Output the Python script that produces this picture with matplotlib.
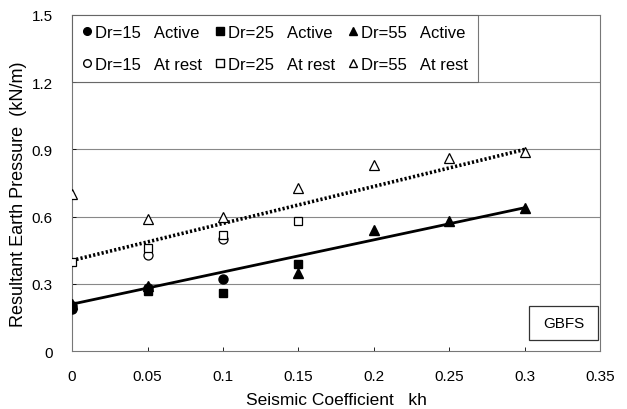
import matplotlib
matplotlib.use("Agg")
import matplotlib.pyplot as plt
from matplotlib.lines import Line2D
from matplotlib.patches import Rectangle

plt.rcParams['font.family'] = ['Liberation Sans', 'DejaVu Sans']

# Data
kh_15 = [0, 0, 0.05, 0.1]
dr15_active = [0.19, 0.20, 0.28, 0.32]
kh_25 = [0, 0.05, 0.1, 0.15]
dr25_active = [0.20, 0.27, 0.26, 0.39]
kh_55 = [0, 0.05, 0.15, 0.2, 0.25, 0.3]
dr55_active = [0.21, 0.29, 0.35, 0.54, 0.58, 0.64]

kh_15r = [0.05, 0.1]
dr15_rest = [0.43, 0.50]
kh_25r = [0, 0.05, 0.1, 0.15]
dr25_rest = [0.40, 0.46, 0.52, 0.58]
kh_55r = [0, 0.05, 0.1, 0.15, 0.2, 0.25, 0.3]
dr55_rest = [0.70, 0.59, 0.60, 0.73, 0.83, 0.86, 0.89]

trend_x = [0, 0.3]
active_trend = [0.21, 0.64]
rest_trend = [0.405, 0.90]

x_ticks = [0, 0.05, 0.1, 0.15, 0.2, 0.25, 0.3, 0.35]
x_ticklabels = ['0', '0.05', '0.1', '0.15', '0.2', '0.25', '0.3', '0.35']
y_ticks = [0, 0.3, 0.6, 0.9, 1.2, 1.5]
y_ticklabels = ['0', '0.3', '0.6', '0.9', '1.2', '1.5']

fig = plt.figure(figsize=(6.27, 4.10), dpi=100)
ax = fig.add_axes([0.115, 0.141, 0.842, 0.820])

ax.set_xlim(0, 0.35)
ax.set_ylim(0, 1.5)
for y in y_ticks[1:-1]:
    ax.axhline(y, color='#888888', lw=0.8, zorder=0)

ax.plot(trend_x, active_trend, color='black', lw=2.0, zorder=2)
ax.plot(trend_x, rest_trend, color='black', lw=2.6, ls=(0, (0.6, 0.6)), zorder=2)

ms = 6.5
ax.plot(kh_15, dr15_active, 'o', color='black', ms=ms, ls='none', zorder=3)
ax.plot(kh_25, dr25_active, 's', color='black', ms=ms - 0.5, ls='none', zorder=3)
ax.plot(kh_55, dr55_active, '^', color='black', ms=ms, ls='none', zorder=3)
ax.plot(kh_15r, dr15_rest, 'o', mfc='white', mec='black', mew=0.9, ms=ms, ls='none', zorder=3)
ax.plot(kh_25r, dr25_rest, 's', mfc='white', mec='black', mew=0.9, ms=ms - 0.5, ls='none', zorder=3)
ax.plot(kh_55r, dr55_rest, '^', mfc='white', mec='black', mew=0.9, ms=ms + 0.5, ls='none', zorder=3)

ax.set_xticks(x_ticks)
ax.set_xticklabels(x_ticklabels, fontsize=11)
ax.set_yticks(y_ticks)
ax.set_yticklabels(y_ticklabels, fontsize=11)
ax.tick_params(axis='both', direction='in', length=3, width=0.6)
ax.tick_params(axis='x', pad=13)
ax.tick_params(axis='y', pad=14)
for s in ax.spines.values():
    s.set_color('#777777')
    s.set_linewidth(0.8)

ax.set_xlabel('Seismic Coefficient   kh', fontsize=12.5, labelpad=6)
ax.set_ylabel('Resultant Earth Pressure  (kN/m)', fontsize=13)
ax.yaxis.set_label_coords(-0.085, 0.47)

handles = [
    Line2D([], [], marker='o', color='black', ls='none', ms=5.5),
    Line2D([], [], marker='o', mfc='white', mec='black', ls='none', ms=5.5),
    Line2D([], [], marker='s', color='black', ls='none', ms=5.5),
    Line2D([], [], marker='s', mfc='white', mec='black', ls='none', ms=5.5),
    Line2D([], [], marker='^', color='black', ls='none', ms=5.5),
    Line2D([], [], marker='^', mfc='white', mec='black', ls='none', ms=5.5),
]
labels = ['Dr=15   Active', 'Dr=15   At rest', 'Dr=25   Active', 'Dr=25   At rest',
          'Dr=55   Active', 'Dr=55   At rest']
leg = ax.legend(handles, labels, ncol=3, loc='upper left', bbox_to_anchor=(0.0, 1.0),
                fontsize=12, frameon=True, fancybox=False, handlelength=0.6,
                handletextpad=0.2, columnspacing=0.75, borderpad=0.6, labelspacing=1.0,
                borderaxespad=0.0)
leg.get_frame().set_edgecolor('#555555')
leg.get_frame().set_linewidth(0.8)

ax.add_patch(Rectangle((0.866, 0.033), 0.130, 0.101, transform=ax.transAxes,
                       fc='white', ec='#333333', lw=0.9, zorder=4))
ax.text(0.931, 0.0835, 'GBFS', transform=ax.transAxes, fontsize=11, ha='center',
        va='center', zorder=5)

fig.savefig('out.png', dpi=100)
